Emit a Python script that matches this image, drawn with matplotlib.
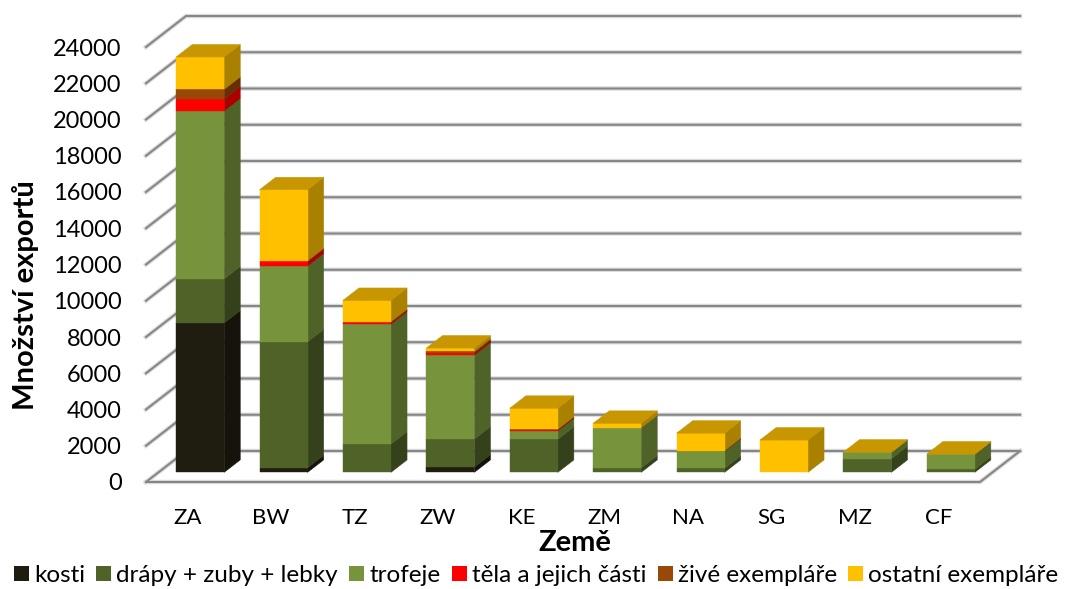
import matplotlib
matplotlib.use('Agg')
import matplotlib.pyplot as plt
from matplotlib.patches import Patch
from matplotlib.colors import to_rgb

countries = ['ZA', 'BW', 'TZ', 'ZW', 'KE', 'ZM', 'NA', 'SG', 'MZ', 'CF']
kosti = [8240, 250, 0, 290, 0, 0, 0, 0, 0, 0]
drapy = [2430, 6950, 1560, 1545, 1820, 240, 220, 0, 750, 165]
trofeje = [9270, 4190, 6620, 4635, 475, 2225, 940, 0, 350, 830]
tela = [660, 250, 90, 110, 45, 0, 0, 0, 0, 0]
zive = [535, 30, 40, 85, 35, 0, 40, 0, 0, 0]
ostatni = [1780, 3920, 1175, 190, 1160, 240, 960, 1780, 15, 15]
yticks = list(range(0, 26000, 2000))

series = [kosti, drapy, trofeje, tela, zive, ostatni]
labels = ['kosti', 'drápy + zuby + lebky', 'trofeje', 'těla a jejich části',
          'živé exempláře', 'ostatní exempláře']
colors = ['#1F1C10', '#4F6228', '#77933C', '#FF0000', '#984807', '#FFC000']

plt.rcParams['font.family'] = ['Lato', 'DejaVu Sans']

# oblique depth of the floor, in category and value units
DEPTH_X = 0.48
DEPTH_Y = 1710
BAR_W = 0.575
BAR_D0 = 0.313
BAR_D1 = 0.713
GRID = '#868686'


def shade(col, k):
    return tuple(c * k for c in to_rgb(col))


def oblique(x, v, d):
    return x + d * DEPTH_X, v + d * DEPTH_Y


def poly(ax, pts, col, z):
    ax.fill([p[0] for p in pts], [p[1] for p in pts], facecolor=col, edgecolor=col, lw=0.4, zorder=z, clip_on=False)


fig = plt.figure(figsize=(10.67, 5.89), dpi=100)
ax = fig.add_axes([146 / 1067, 1 - 482 / 589, 834 / 1067, 435 / 589])

# walls and floor
n = len(countries)
for v in yticks:
    x0, y0 = oblique(0, v, 0)
    x1, y1 = oblique(0, v, 1)
    x2, y2 = oblique(n, v, 1)
    ax.plot([x0, x1, x2], [y0, y1, y2], color='#DDDDDD', lw=3.2, zorder=1, clip_on=False, solid_joinstyle='miter')
for v in yticks:
    x0, y0 = oblique(0, v, 0)
    x1, y1 = oblique(0, v, 1)
    x2, y2 = oblique(n, v, 1)
    ax.plot([x0, x1, x2], [y0, y1, y2], color=GRID, lw=1.5, zorder=2, clip_on=False, solid_joinstyle='miter')
fx = [0, n, oblique(n, 0, 1)[0]]
fy = [0, 0, oblique(n, 0, 1)[1]]
ax.plot(fx, fy, color='#DDDDDD', lw=3.2, zorder=1, clip_on=False)
ax.plot(fx, fy, color=GRID, lw=1.5, zorder=2, clip_on=False)

# bars, left to right, bottom to top
for i in range(n):
    bottom = 0
    z = 3 + i
    left = i + 0.5 - BAR_W / 2
    for vals, col in zip(series, colors):
        val = vals[i]
        if val == 0:
            continue
        top = bottom + val
        xf, yb = oblique(left, bottom, BAR_D0)
        poly(ax, [oblique(left + BAR_W, bottom, BAR_D0), oblique(left + BAR_W, bottom, BAR_D1),
                  oblique(left + BAR_W, top, BAR_D1), oblique(left + BAR_W, top, BAR_D0)],
             shade(col, 0.667), z)
        ax.bar(xf, val, BAR_W, bottom=yb, align='edge', color=col, edgecolor=col, lw=0.3, zorder=z, clip_on=False)
        bottom = top
    # top face takes the colour of the last series
    poly(ax, [oblique(left, bottom, BAR_D0), oblique(left + BAR_W, bottom, BAR_D0),
              oblique(left + BAR_W, bottom, BAR_D1), oblique(left, bottom, BAR_D1)],
         shade(colors[-1], 0.78), z)

ax.set_xlim(0, n)
ax.set_ylim(0, 24000)
ax.set_xticks([i + 0.5 for i in range(n)])
ax.set_xticklabels(countries, fontsize=16)
ax.set_yticks(yticks[:13])
ax.tick_params(axis='both', length=0)
ax.tick_params(axis='x', pad=19)
ax.tick_params(axis='y', pad=17.4, labelsize=17)
for s in ax.spines.values():
    s.set_visible(False)
ax.patch.set_alpha(0)

ax.set_xlabel('Země', fontsize=21, fontweight='bold', va='center')
ax.xaxis.set_label_coords(0.514, -0.14)
ax.set_ylabel('Množství exportů', fontsize=21, fontweight='bold', va='center')
ax.yaxis.set_label_coords(-0.145, 0.43)

handles = [Patch(color=c, lw=0) for c in colors]
ax.legend(handles, labels, ncol=6, frameon=False, fontsize=17.5, loc='center',
          bbox_to_anchor=(536 / 1067, 1 - 575.5 / 589), bbox_transform=fig.transFigure,
          handlelength=0.62, handleheight=0.62, handletextpad=0.2, columnspacing=0.47, borderpad=0, borderaxespad=0)

fig.savefig('out.png', dpi=100)
